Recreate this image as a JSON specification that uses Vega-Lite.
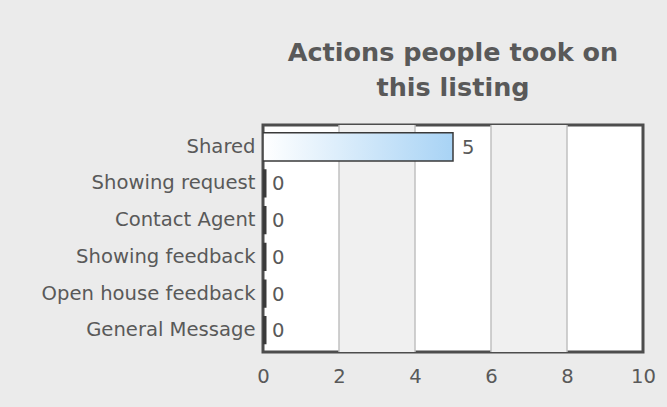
{
  "$schema": "https://vega.github.io/schema/vega-lite/v6.json",
  "width": 380,
  "height": 227,
  "autosize": "none",
  "padding": {"left": 263, "top": 125, "right": 24, "bottom": 55},
  "background": "#ebebeb",
  "title": {
    "text": ["Actions people took on", "this listing"],
    "font": "DejaVu Sans",
    "fontSize": 25.5,
    "fontWeight": "bold",
    "color": "#595959",
    "lineHeight": 35,
    "anchor": "middle",
    "frame": "group",
    "offset": 23
  },
  "config": {
    "view": {"fill": "white", "stroke": "#4d4d4d", "strokeWidth": 3},
    "axis": {"labelFont": "DejaVu Sans", "labelFontSize": 19.6, "labelColor": "#595959", "domain": false, "ticks": false, "title": null, "labelLimit": 400, "labelFlush": false}
  },
  "datasets": {
    "actions": [
      {"action": "Shared", "count": 5},
      {"action": "Showing request", "count": 0},
      {"action": "Contact Agent", "count": 0},
      {"action": "Showing feedback", "count": 0},
      {"action": "Open house feedback", "count": 0},
      {"action": "General Message", "count": 0}
    ],
    "bands": [
      {"from": 2, "to": 4},
      {"from": 6, "to": 8}
    ]
  },
  "layer": [
    {
      "data": {"name": "bands"},
      "mark": {"type": "rect", "color": "#f0f0f0"},
      "encoding": {
        "x": {"field": "from", "type": "quantitative", "scale": {"domain": [0, 10]},
          "axis": {"values": [0, 2, 4, 6, 8, 10], "grid": false, "labelPadding": 15}},
        "x2": {"field": "to"}
      }
    },
    {
      "data": {"name": "bands"},
      "mark": {"type": "rule", "color": "#c0c0c0", "strokeWidth": 1.5},
      "encoding": {
        "x": {"field": "from", "type": "quantitative"}
      }
    },
    {
      "data": {"name": "bands"},
      "mark": {"type": "rule", "color": "#c0c0c0", "strokeWidth": 1.5},
      "encoding": {
        "x": {"field": "to", "type": "quantitative"}
      }
    },
    {
      "data": {"name": "actions"},
      "mark": {
        "type": "bar",
        "clip": true,
        "stroke": "#3a3a3a",
        "fill": {"x1": 0, "y1": 0, "x2": 1, "y2": 0, "gradient": "linear",
          "stops": [{"offset": 0, "color": "#ffffff"}, {"offset": 1, "color": "#a8d3f5"}]}
      },
      "encoding": {
        "y": {"field": "action", "type": "nominal", "sort": null,
          "scale": {"paddingInner": 0.23, "paddingOuter": 0.21},
          "axis": {"labelPadding": 8}},
        "x": {"field": "count", "type": "quantitative"},
        "strokeWidth": {"condition": {"test": "datum.count == 0", "value": 7}, "value": 1.5}
      }
    },
    {
      "data": {"name": "actions"},
      "mark": {"type": "text", "align": "left", "baseline": "middle", "dx": 9, "dy": 1, "font": "DejaVu Sans", "fontSize": 19.6, "color": "#595959"},
      "encoding": {
        "y": {"field": "action", "type": "nominal", "sort": null},
        "x": {"field": "count", "type": "quantitative"},
        "text": {"field": "count", "type": "quantitative"}
      }
    }
  ]
}
